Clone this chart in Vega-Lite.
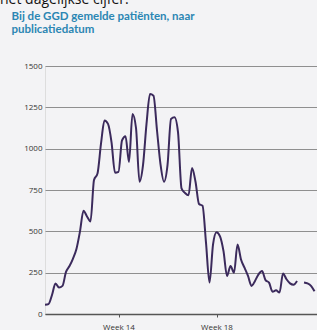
{
  "$schema": "https://vega.github.io/schema/vega-lite/v6.json",
  "width": 272,
  "height": 248,
  "autosize": "none",
  "padding": {"left": 45, "top": 66, "right": 0, "bottom": 16},
  "background": "#f3f3f5",
  "title": {
    "text": "het dagelijkse cijfer:",
    "anchor": "start",
    "frame": "group",
    "dx": -45,
    "dy": 12,
    "offset": 4,
    "baseline": "alphabetic",
    "font": "Open Sans",
    "fontSize": 14,
    "fontWeight": "normal",
    "color": "#111111"
  },
  "data": {
    "values": [
      {"datum": "2020-03-09", "patienten": 56},
      {"datum": "2020-03-10", "patienten": 60},
      {"datum": "2020-03-11", "patienten": 115},
      {"datum": "2020-03-12", "patienten": 185},
      {"datum": "2020-03-13", "patienten": 160},
      {"datum": "2020-03-14", "patienten": 170},
      {"datum": "2020-03-15", "patienten": 255},
      {"datum": "2020-03-16", "patienten": 290},
      {"datum": "2020-03-17", "patienten": 335},
      {"datum": "2020-03-18", "patienten": 395},
      {"datum": "2020-03-19", "patienten": 500},
      {"datum": "2020-03-20", "patienten": 625},
      {"datum": "2020-03-21", "patienten": 590},
      {"datum": "2020-03-22", "patienten": 560},
      {"datum": "2020-03-23", "patienten": 810},
      {"datum": "2020-03-24", "patienten": 850},
      {"datum": "2020-03-25", "patienten": 1030},
      {"datum": "2020-03-26", "patienten": 1170},
      {"datum": "2020-03-27", "patienten": 1150},
      {"datum": "2020-03-28", "patienten": 1040},
      {"datum": "2020-03-29", "patienten": 855},
      {"datum": "2020-03-30", "patienten": 860},
      {"datum": "2020-03-31", "patienten": 1050},
      {"datum": "2020-04-01", "patienten": 1075},
      {"datum": "2020-04-02", "patienten": 920},
      {"datum": "2020-04-03", "patienten": 1210},
      {"datum": "2020-04-04", "patienten": 1125},
      {"datum": "2020-04-05", "patienten": 800},
      {"datum": "2020-04-06", "patienten": 900},
      {"datum": "2020-04-07", "patienten": 1150},
      {"datum": "2020-04-08", "patienten": 1330},
      {"datum": "2020-04-09", "patienten": 1320},
      {"datum": "2020-04-10", "patienten": 1110},
      {"datum": "2020-04-11", "patienten": 905},
      {"datum": "2020-04-12", "patienten": 800},
      {"datum": "2020-04-13", "patienten": 900},
      {"datum": "2020-04-14", "patienten": 1180},
      {"datum": "2020-04-15", "patienten": 1190},
      {"datum": "2020-04-16", "patienten": 1100},
      {"datum": "2020-04-17", "patienten": 760},
      {"datum": "2020-04-18", "patienten": 732},
      {"datum": "2020-04-19", "patienten": 718},
      {"datum": "2020-04-20", "patienten": 883},
      {"datum": "2020-04-21", "patienten": 800},
      {"datum": "2020-04-22", "patienten": 665},
      {"datum": "2020-04-23", "patienten": 655},
      {"datum": "2020-04-24", "patienten": 430},
      {"datum": "2020-04-25", "patienten": 190},
      {"datum": "2020-04-26", "patienten": 420},
      {"datum": "2020-04-27", "patienten": 495},
      {"datum": "2020-04-28", "patienten": 470},
      {"datum": "2020-04-29", "patienten": 380},
      {"datum": "2020-04-30", "patienten": 230},
      {"datum": "2020-05-01", "patienten": 290},
      {"datum": "2020-05-02", "patienten": 250},
      {"datum": "2020-05-03", "patienten": 420},
      {"datum": "2020-05-04", "patienten": 330},
      {"datum": "2020-05-05", "patienten": 280},
      {"datum": "2020-05-06", "patienten": 230},
      {"datum": "2020-05-07", "patienten": 170},
      {"datum": "2020-05-08", "patienten": 200},
      {"datum": "2020-05-09", "patienten": 240},
      {"datum": "2020-05-10", "patienten": 260},
      {"datum": "2020-05-11", "patienten": 205},
      {"datum": "2020-05-12", "patienten": 190},
      {"datum": "2020-05-13", "patienten": 135},
      {"datum": "2020-05-14", "patienten": 143},
      {"datum": "2020-05-15", "patienten": 130},
      {"datum": "2020-05-16", "patienten": 245},
      {"datum": "2020-05-17", "patienten": 210},
      {"datum": "2020-05-18", "patienten": 185},
      {"datum": "2020-05-19", "patienten": 177},
      {"datum": "2020-05-20", "patienten": 200},
      {"datum": "2020-05-21", "patienten": null},
      {"datum": "2020-05-22", "patienten": 191},
      {"datum": "2020-05-23", "patienten": 185},
      {"datum": "2020-05-24", "patienten": 170},
      {"datum": "2020-05-25", "patienten": 137}
    ]
  },
  "mark": {
    "type": "line",
    "stroke": "#3b2a5c",
    "strokeWidth": 2,
    "interpolate": "monotone",
    "invalid": "break-paths-filter-domains"
  },
  "encoding": {
    "x": {
      "field": "datum",
      "type": "temporal",
      "scale": {
        "type": "utc",
        "domain": [
          {"year": 2020, "month": 3, "date": 9, "utc": true},
          {"year": 2020, "month": 5, "date": 25, "hours": 17, "utc": true}
        ]
      },
      "axis": {
        "title": null,
        "values": [
          {"year": 2020, "month": 3, "date": 30, "utc": true},
          {"year": 2020, "month": 4, "date": 27, "utc": true}
        ],
        "labelExpr": "datum.value < 1586908800000 ? 'Week 14' : 'Week 18'",
        "grid": false,
        "domainColor": "#555555",
        "domainWidth": 1.5,
        "tickColor": "#555555",
        "tickSize": 3,
        "labelFont": "Open Sans",
        "labelFontSize": 8,
        "labelColor": "#333333",
        "labelPadding": 6,
        "labelFlush": false
      }
    },
    "y": {
      "field": "patienten",
      "type": "quantitative",
      "scale": {"domain": [0, 1500]},
      "axis": {
        "values": [0, 250, 500, 750, 1000, 1250, 1500],
        "format": "d",
        "title": ["Bij de GGD gemelde patiënten, naar", "publicatiedatum"],
        "titleAngle": 0,
        "titleAlign": "left",
        "titleBaseline": "alphabetic",
        "titleX": -34,
        "titleY": -47,
        "titleFont": "Lato",
        "titleFontSize": 11.5,
        "titleFontWeight": "bold",
        "titleColor": "#2b86b3",
        "titleLineHeight": 13,
        "domain": false,
        "ticks": false,
        "grid": true,
        "gridColor": "#8f8f8f",
        "gridWidth": 1.2,
        "labelFont": "Open Sans",
        "labelFontSize": 8,
        "labelColor": "#333333",
        "labelPadding": 3
      }
    }
  }
}
